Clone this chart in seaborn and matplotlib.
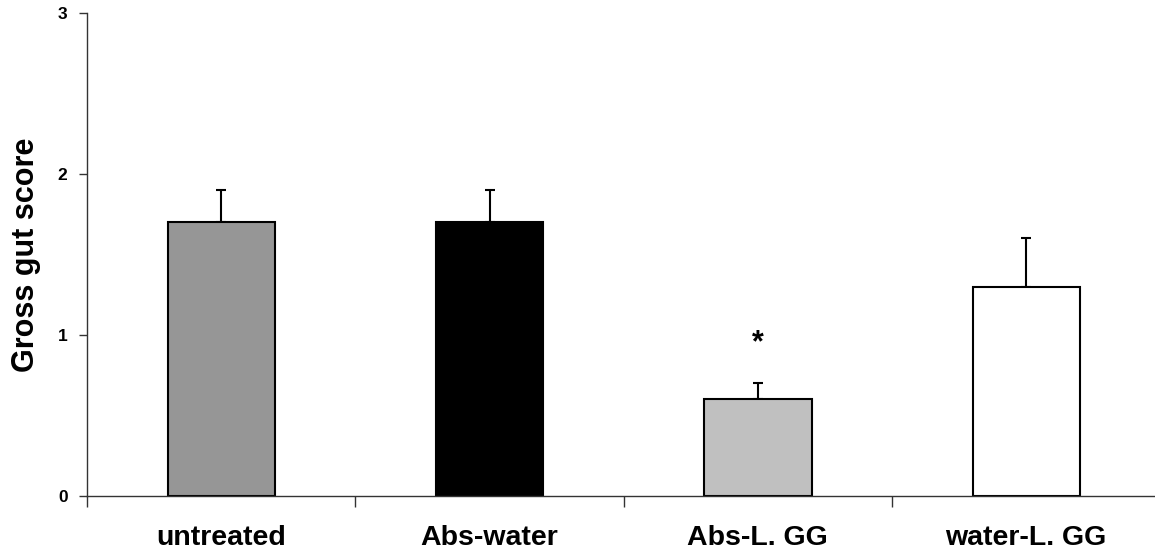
import numpy as np
import pandas as pd
import matplotlib
matplotlib.use("Agg")
import matplotlib.pyplot as plt
import seaborn as sns

# values
GROUPS = ['untreated', 'Abs-water', 'Abs-L. GG', 'water-L. GG']
SCORES = [1.7, 1.7, 0.6, 1.3]
ERRORS = [0.2, 0.2, 0.1, 0.3]
COLORS = ['#969696', '#000000', '#c0c0c0', '#ffffff']
SIGNIFICANT = ['', '', '*', '']
STAR_HEIGHT = [0, 0, 0.95, 0]

df = pd.DataFrame({'Group': GROUPS, 'Score': SCORES, 'Error': ERRORS})

sns.set_style('white')
plt.rcParams['font.family'] = ['Liberation Sans', 'DejaVu Sans']
plt.rcParams['text.color'] = 'black'
plt.rcParams['axes.labelcolor'] = 'black'
plt.rcParams['xtick.color'] = 'black'
plt.rcParams['ytick.color'] = 'black'

fig = plt.figure(figsize=(11.55, 5.53), dpi=100)
ax = fig.add_axes([87 / 1155, 57 / 553, 1 - 87 / 1155, 483 / 553])

# error bars (upper only) go first so the bars cover the lower half
ax.errorbar(np.arange(len(GROUPS)), df['Score'],
            yerr=[np.zeros(len(GROUPS)), df['Error']],
            fmt='none', ecolor='black', elinewidth=1.5, capsize=3.5,
            capthick=1.5, zorder=1)

sns.barplot(data=df, x='Group', y='Score', hue='Group',
            palette=dict(zip(GROUPS, COLORS)), width=0.4,
            edgecolor='black', linewidth=1.5, legend=False, ax=ax, zorder=2)

for i, mark in enumerate(SIGNIFICANT):
    if mark:
        ax.text(i, STAR_HEIGHT[i], mark, ha='center', va='center',
                fontsize=22, fontweight='bold')

ax.set_xlim(-0.5, 3.48)
ax.set_ylim(0, 3)
ax.set_yticks([0, 1, 2, 3])
ax.set_yticklabels(['0', '1', '2', '3'], fontsize=12.5, fontweight='bold')

# x ticks sit between groups, labels are drawn separately under each bar
ax.set_xticks([-0.5, 0.5, 1.5, 2.5])
ax.set_xticklabels([])
for i, g in enumerate(GROUPS):
    ax.text(i, -0.26, g, ha='center', va='center', fontsize=20.5,
            fontweight='bold', clip_on=False)

ax.set_xlabel('')
ax.set_ylabel('Gross gut score', fontsize=22, fontweight='bold')
ax.yaxis.set_label_coords(-46 / 1068, 0.5)

for side in ['top', 'right']:
    ax.spines[side].set_visible(False)
for side in ['left', 'bottom']:
    ax.spines[side].set_color('#333333')
    ax.spines[side].set_linewidth(1.0)

ax.tick_params(axis='y', direction='out', length=6, width=1, color='#333333', left=True, pad=8)
ax.tick_params(axis='x', direction='out', length=8, width=1, color='#333333', bottom=True)

fig.savefig('out.png', dpi=100)
